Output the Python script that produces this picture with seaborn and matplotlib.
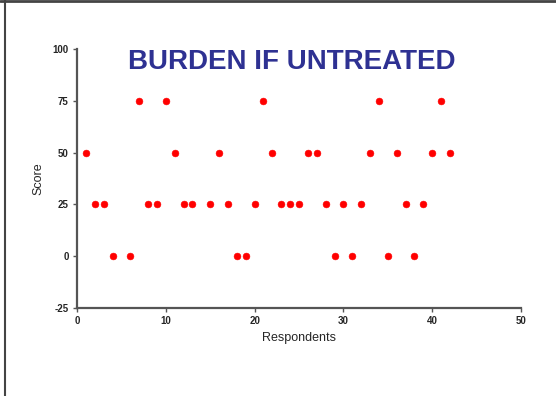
import matplotlib
matplotlib.use("Agg")
import matplotlib.pyplot as plt
import seaborn as sns
import pandas as pd
from matplotlib.lines import Line2D

respondents = [1, 2, 3, 4, 6, 7, 8, 9, 10, 11, 12, 13, 15, 16, 17, 18, 19, 20, 21, 22,
               23, 24, 25, 26, 27, 28, 29, 30, 31, 32, 33, 34, 35, 36, 37, 38, 39, 40, 41, 42]
scores = [50, 25, 25, 0, 0, 75, 25, 25, 75, 50, 25, 25, 25, 50, 25, 0, 0, 25, 75, 50,
          25, 25, 25, 50, 50, 25, 0, 25, 0, 25, 50, 75, 0, 50, 25, 0, 25, 50, 75, 50]
x_ticks = [0, 10, 20, 30, 40, 50]
y_ticks = [-25, 0, 25, 50, 75, 100]

df = pd.DataFrame({"Respondents": respondents, "Score": scores})

sns.set_style("white")
plt.rcParams['font.family'] = ['Liberation Sans', 'DejaVu Sans']

fig = plt.figure(figsize=(5.56, 3.96), dpi=100)
ax = fig.add_axes([77/556, 1-308/396, (521-77)/556, (308-49)/396])

sns.scatterplot(data=df, x="Respondents", y="Score", ax=ax, color="#ff0000",
                s=24, edgecolor="#ff0000", linewidth=0.4, legend=False)

ax.set_xlim(0, 50)
ax.set_ylim(-25, 100)
ax.set_xticks(x_ticks)
ax.set_yticks(y_ticks)
ax.set_xticklabels([str(t) for t in x_ticks], fontsize=7, fontweight="bold")
ax.set_yticklabels([str(t) for t in y_ticks], fontsize=7, fontweight="bold")
ax.tick_params(axis="both", direction="out", length=3, width=1, color="#555555", pad=3,
               bottom=True, left=True)
for s in ["top", "right"]:
    ax.spines[s].set_visible(False)
for s in ["left", "bottom"]:
    ax.spines[s].set_color("#555555")
    ax.spines[s].set_linewidth(1.6)

ax.set_xlabel("Respondents", fontsize=9, labelpad=4)
ax.set_ylabel("Score", fontsize=9, labelpad=6)

fig.text(292/556, 1-62/396, "BURDEN IF UNTREATED", ha="center", va="center",
         fontsize=20, fontweight="bold", color="#2e3192")

# frame lines of the slide
fig.add_artist(Line2D([4.5/556, 4.5/556], [0, 1], transform=fig.transFigure,
                      color="#444444", linewidth=1.5))
fig.add_artist(Line2D([0, 1], [1-1/396, 1-1/396], transform=fig.transFigure,
                      color="#444444", linewidth=2))

fig.savefig("out.png", dpi=100)
